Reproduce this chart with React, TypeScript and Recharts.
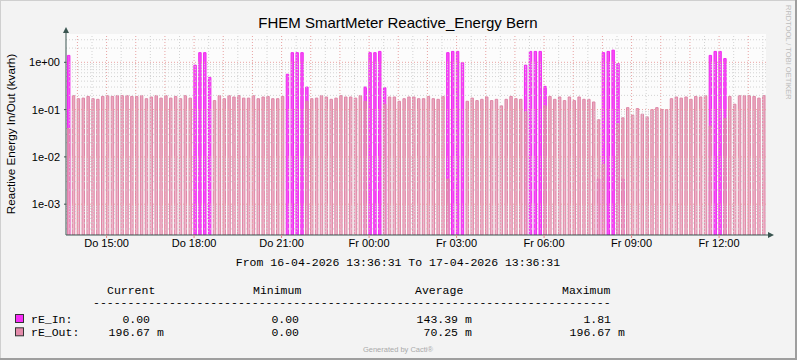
import {
  ComposedChart,
  Bar,
  XAxis,
  YAxis,
  CartesianGrid,
  ReferenceLine,
} from "recharts";

const title = "FHEM SmartMeter Reactive_Energy Bern";
const yAxisTitle = "Reactive Energy In/Out (kvarh)";
const periodText = "From 16-04-2026 13:36:31 To 17-04-2026 13:36:31";

// time window, minutes after midnight of "Do"
const windowStartMin = 13 * 60 + 36 + 31 / 60;
const windowLengthMin = 24 * 60;
const firstSampleMin = 13 * 60 + 40;
const sampleStepMin = 10;
const sampleWidthMin = 5;

// kvarh per 5 min sample, one per 10 min period (the other 5 min are 0)
const rE_Out = [
  0.04, 0.197, 0.17, 0.175, 0.19, 0.17, 0.165, 0.19, 0.197, 0.19,
  0.197, 0.197, 0.197, 0.19, 0.19, 0.197, 0.17, 0.185, 0.197, 0.175,
  0.197, 0.175, 0.19, 0.17, 0.197, 0.175, 0, 0, 0, 0,
  0.155, 0.197, 0.17, 0.197, 0.185, 0.197, 0.175, 0.175, 0.197, 0.17,
  0.185, 0.19, 0.17, 0.17, 0.19, 0, 0, 0, 0, 0.15,
  0.17, 0.175, 0.197, 0.185, 0.165, 0.175, 0.197, 0.185, 0.185, 0.175,
  0.197, 0.15, 0, 0, 0, 0.13, 0.185, 0.185, 0.15, 0.17,
  0.185, 0.185, 0.17, 0.17, 0.19, 0.17, 0.165, 0.19, 0.0034, 0,
  0, 0, 0.15, 0.175, 0.155, 0.165, 0.185, 0.155, 0.165, 0.12,
  0.165, 0.19, 0.17, 0.165, 0.09, 0, 0, 0, 0.12, 0.19,
  0.165, 0.185, 0.155, 0.185, 0.155, 0.185, 0.165, 0.165, 0.145, 0.061,
  0.007, 0, 0, 0.05, 0.067, 0.11, 0.076, 0.105, 0.08, 0.07,
  0.1, 0.11, 0.1, 0.1, 0.17, 0.185, 0.175, 0.185, 0.165, 0.19,
  0.185, 0.197, 0.045, 0, 0, 0.065, 0.19, 0.13, 0.197, 0.197,
  0.197, 0.19, 0.175, 0.197,
];

const rE_In = [
  1.4, 0, 0, 0, 0, 0, 0, 0, 0, 0,
  0, 0, 0, 0, 0, 0, 0, 0, 0, 0,
  0, 0, 0, 0, 0, 0, 0.87, 1.6, 1.6, 0.48,
  0, 0, 0, 0, 0, 0, 0, 0, 0, 0,
  0, 0, 0, 0, 0, 0.56, 1.6, 1.6, 1.6, 0.3,
  0, 0, 0, 0, 0, 0, 0, 0, 0, 0,
  0, 0.3, 1.6, 1.6, 1.7, 0.29, 0, 0, 0, 0,
  0, 0, 0, 0, 0, 0, 0, 0, 1.6, 1.7,
  1.7, 0.98, 0, 0, 0, 0, 0, 0, 0, 0,
  0, 0, 0, 0, 0.87, 1.7, 1.7, 1.7, 0.31, 0,
  0, 0, 0, 0, 0, 0, 0, 0, 0, 0.0034,
  1.6, 1.7, 1.81, 0.94, 0.0034, 0, 0, 0, 0, 0,
  0, 0, 0, 0, 0, 0, 0, 0, 0, 0,
  0, 0, 1.4, 1.7, 1.7, 1.2, 0, 0, 0, 0,
  0, 0, 0, 0,
];

// x axis labels (hour of day counted from Do 00:00)
const xTickHours = [15, 18, 21, 24, 27, 30, 33, 36];
const xTickLabels = [
  "Do 15:00",
  "Do 18:00",
  "Do 21:00",
  "Fr 00:00",
  "Fr 03:00",
  "Fr 06:00",
  "Fr 09:00",
  "Fr 12:00",
];

const yTicks = [1, 0.1, 0.01, 0.001];
const yTickLabels = ["1e+00", "1e-01", "1e-02", "1e-03"];
const yDomain = [2.23e-4, 3.97];

// legend table
const legendHeaders = ["Current", "Minimum", "Average", "Maximum"];
const legendRows = [
  { name: "rE_In:", color: "#F62EF6", values: ["0.00", "0.00", "143.39 m", "1.81"] },
  { name: "rE_Out:", color: "#E38BAA", values: ["196.67 m", "0.00", "70.25 m", "196.67 m"] },
];

const W = 797;
const H = 360;
const PLOT = { left: 66, top: 34, width: 700, height: 201 };
const X_AXIS_H = 20;

const MONO = "'Liberation Mono', 'DejaVu Sans Mono', monospace";
const SANS = "'Liberation Sans', Arial, sans-serif";
const AXIS = "#3A5550";

const minutesOf = (h: number) => h * 60 - windowStartMin;

export default function App() {
  const data = rE_Out.map((v, k) => ({
    t: firstSampleMin + k * sampleStepMin + sampleWidthMin / 2 - windowStartMin,
    out: v > 0 ? v : null,
    inn: rE_In[k] > 0 ? rE_In[k] : null,
  }));

  const hourLines: number[] = [];
  const halfLines: number[] = [];
  for (let h = 13; h <= 38; h++) {
    const m = minutesOf(h);
    if (m > 0 && m < windowLengthMin) hourLines.push(m);
    const m2 = minutesOf(h + 0.5);
    if (m2 > 0 && m2 < windowLengthMin) halfLines.push(m2);
  }
  const minorY: number[] = [];
  for (let d = -4; d <= 0; d++) {
    for (let f = 2; f <= 9; f++) {
      const v = f * Math.pow(10, d);
      if (v > yDomain[0] && v < yDomain[1]) minorY.push(v);
    }
  }

  const xTicks = xTickHours.map(minutesOf);
  const barSize = (PLOT.width * sampleWidthMin) / windowLengthMin;
  const colX = [150, 299, 458, 611];
  const headerX = [107, 253, 415, 562];
  const charW = 6.93;

  return (
    <div
      style={{
        position: "absolute",
        left: 0,
        top: 0,
        width: W,
        height: H,
        background: "#F3F3F3",
      }}
    >
      <ComposedChart
        width={W}
        height={H}
        data={data}
        margin={{
          top: PLOT.top,
          left: 0,
          right: W - PLOT.left - PLOT.width,
          bottom: H - PLOT.top - PLOT.height - X_AXIS_H,
        }}
      >
        <defs>
          <linearGradient id="outWash" x1="0" y1="0" x2="0" y2="1">
            <stop offset="0%" stopColor="#E38BAA" stopOpacity={0.75} />
            <stop offset="100%" stopColor="#EFAFC6" stopOpacity={0.9} />
          </linearGradient>
        </defs>
        <CartesianGrid fill="#FCFCFC" horizontal={false} vertical={false} />
        {minorY.map((v) => (
          <ReferenceLine
            key={"my" + v}
            y={v}
            yAxisId="y"
            xAxisId="main"
            stroke="#D2D2D2"
            strokeDasharray="1 2"
          />
        ))}
        {halfLines.map((m) => (
          <ReferenceLine
            key={"hx" + m}
            x={m}
            yAxisId="y"
            xAxisId="main"
            stroke="#D2D2D2"
            strokeDasharray="1 2"
          />
        ))}
        {yTicks.map((v) => (
          <ReferenceLine
            key={"My" + v}
            y={v}
            yAxisId="y"
            xAxisId="main"
            stroke="#E8A3A3"
            strokeDasharray="1 2"
          />
        ))}
        {hourLines.map((m) => (
          <ReferenceLine
            key={"Mx" + m}
            x={m}
            yAxisId="y"
            xAxisId="main"
            stroke="#E8A3A3"
            strokeDasharray="1 2"
          />
        ))}
        <XAxis
          xAxisId="main"
          dataKey="t"
          type="number"
          domain={[0, windowLengthMin]}
          allowDataOverflow
          height={X_AXIS_H}
          ticks={xTicks}
          interval={0}
          tickFormatter={(v: number) =>
            xTickLabels[xTicks.findIndex((m) => Math.abs(m - v) < 0.01)]
          }
          tick={{ fontFamily: SANS, fontSize: 11, fill: "#000" }}
          tickSize={3}
          tickMargin={1}
          axisLine={{ stroke: AXIS }}
          tickLine={{ stroke: "#D88" }}
        />
        <XAxis
          xAxisId="inn"
          dataKey="t"
          type="number"
          domain={[0, windowLengthMin]}
          allowDataOverflow
          height={0}
          hide
        />
        <YAxis
          yAxisId="y"
          type="number"
          scale="log"
          domain={yDomain}
          allowDataOverflow
          width={PLOT.left}
          ticks={yTicks}
          interval={0}
          tickFormatter={(v: number) => yTickLabels[yTicks.indexOf(v)]}
          tick={{ fontFamily: SANS, fontSize: 11, fill: "#000" }}
          tickSize={2}
          tickMargin={4}
          axisLine={{ stroke: AXIS }}
          tickLine={{ stroke: AXIS }}
        />
        <Bar
          dataKey="inn"
          xAxisId="inn"
          yAxisId="y"
          barSize={barSize}
          fill="#F550F5"
          stroke="#F028F0"
          strokeWidth={1}
          isAnimationActive={false}
        />
        <Bar
          dataKey="out"
          xAxisId="main"
          yAxisId="y"
          barSize={barSize}
          fill="url(#outWash)"
          stroke="#DE86A6"
          strokeWidth={1}
          isAnimationActive={false}
        />
      </ComposedChart>

      <svg
        width={W}
        height={H}
        style={{ position: "absolute", left: 0, top: 0, pointerEvents: "none" }}
      >
        {/* 3d frame */}
        <line x1={0.5} y1={0} x2={0.5} y2={H} stroke="#CFCFCF" />
        <line x1={0} y1={0.5} x2={W} y2={0.5} stroke="#CFCFCF" />
        <line x1={W - 1} y1={0} x2={W - 1} y2={H} stroke="#9E9E9E" strokeWidth={2} />
        <line x1={0} y1={H - 1} x2={W} y2={H - 1} stroke="#9E9E9E" strokeWidth={2} />

        {/* axis arrows */}
        <line x1={PLOT.left} y1={PLOT.top} x2={PLOT.left} y2={29} stroke={AXIS} />
        <polygon
          points={`${PLOT.left - 3},${33} ${PLOT.left + 3},${33} ${PLOT.left},${27}`}
          fill={AXIS}
        />
        <line
          x1={PLOT.left + PLOT.width}
          y1={PLOT.top + PLOT.height}
          x2={771}
          y2={PLOT.top + PLOT.height}
          stroke={AXIS}
        />
        <polygon
          points={`${768},${PLOT.top + PLOT.height - 3} ${768},${PLOT.top + PLOT.height + 3} ${774},${PLOT.top + PLOT.height}`}
          fill={AXIS}
        />

        <text x={398} y={28} textAnchor="middle" fontFamily={SANS} fontSize={15} fill="#000">
          {title}
        </text>
        <text
          transform="translate(15,134) rotate(-90)"
          textAnchor="middle"
          fontFamily={SANS}
          fontSize={11.7}
          fill="#000"
        >
          {yAxisTitle}
        </text>
        <text
          transform="translate(786,5) rotate(90)"
          fontFamily={SANS}
          fontSize={7.5}
          fill="#BDBDBD"
        >
          RRDTOOL / TOBI OETIKER
        </text>
        <text x={398} y={266} textAnchor="middle" fontFamily={MONO} fontSize={11.5} fill="#000">
          {periodText}
        </text>

        {legendHeaders.map((h, i) => (
          <text key={h} x={headerX[i]} y={294} fontFamily={MONO} fontSize={11.5} fill="#000">
            {h}
          </text>
        ))}
        <text x={93} y={306} fontFamily={MONO} fontSize={11.5} fill="#000">
          {"-".repeat(75)}
        </text>
        {legendRows.map((r, ri) => {
          const y = 323 + ri * 13.3;
          return (
            <g key={r.name}>
              <rect x={15.5} y={y - 8.5} width={8} height={8} fill={r.color} stroke="#333" />
              <text x={31} y={y} fontFamily={MONO} fontSize={11.5} fill="#000">
                {r.name}
              </text>
              {r.values.map((v, i) => {
                const [num, unit] = v.split(" ");
                return (
                  <g key={i}>
                    <text x={colX[i]} y={y} textAnchor="end" fontFamily={MONO} fontSize={11.5} fill="#000">
                      {num}
                    </text>
                    {unit && (
                      <text x={colX[i] + charW} y={y} fontFamily={MONO} fontSize={11.5} fill="#000">
                        {unit}
                      </text>
                    )}
                  </g>
                );
              })}
            </g>
          );
        })}
        <text x={398} y={352} textAnchor="middle" fontFamily={SANS} fontSize={7.5} fill="#AAAAAA">
          Generated by Cacti®
        </text>
      </svg>
    </div>
  );
}
